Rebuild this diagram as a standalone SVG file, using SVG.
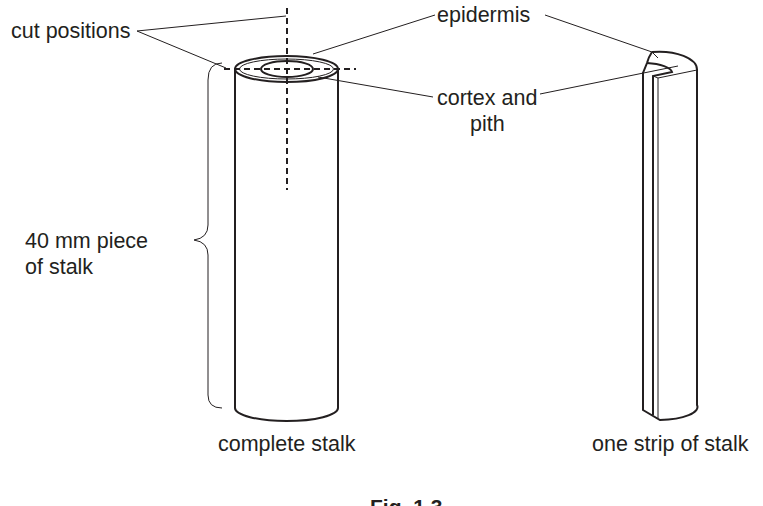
<svg xmlns="http://www.w3.org/2000/svg" width="763" height="506" viewBox="0 0 763 506">
<style>
.t{font-family:"Liberation Sans",Arial,sans-serif;font-size:21.5px;fill:#231f20}
.s{fill:none;stroke:#231f20;stroke-width:2}
.th{fill:none;stroke:#231f20;stroke-width:1}
.d{fill:none;stroke:#231f20;stroke-width:2;stroke-dasharray:6,4}
</style>
<rect width="763" height="506" fill="#fff"/>
<g id="stalk">
<path class="s" d="M235,69 V408 A51.5,13 0 0 0 338,408 V69"/>
<ellipse class="s" cx="286.5" cy="69" rx="51.5" ry="13"/>
<ellipse class="th" cx="286.5" cy="69" rx="47" ry="10"/>
<ellipse class="s" cx="287" cy="69" rx="26" ry="8"/>
<path class="d" d="M287,8 V190 M224,69 H356"/>
</g>
<g id="strip">
<path class="s" d="M652,52 Q648,58 647,63 L643,73 V410 L660,420 A40,13 0 0 0 697,405 V70 A38,18 0 0 0 652,52"/>
<path class="s" d="M647,63 A30,10 0 0 1 672,72 L653,76 V415"/>
<path class="th" d="M653,76 L658,78 V418 M658,78 L697,70 M652,52 L658,58"/>
</g>
<g id="labels">
<text class="t" x="11" y="38">cut positions</text>
<text class="t" x="437" y="22">epidermis</text>
<text class="t" x="437" y="105">cortex and</text>
<text class="t" x="470" y="131">pith</text>
<text class="t" x="25" y="248">40 mm piece</text>
<text class="t" x="25" y="274">of stalk</text>
<text class="t" x="218" y="451">complete stalk</text>
<text class="t" x="592" y="451">one strip of stalk</text>
<text x="370" y="514" style="font-family:'Liberation Sans',Arial,sans-serif;font-size:21px;font-weight:bold;fill:#231f20">Fig. 1.3</text>
</g>
<g id="connectors">
<path class="th" d="M137,31 L286,16 M137,31 L226,68 M435,15 L313,54 M545,15 L652,52 M433,97 L318,77 M540,94 L678,66"/>
<path class="th" d="M222,63 Q208,63 208,80 V225 Q208,238 194,240 Q208,242 208,255 V395 Q208,408 222,408"/>
</g>
</svg>
